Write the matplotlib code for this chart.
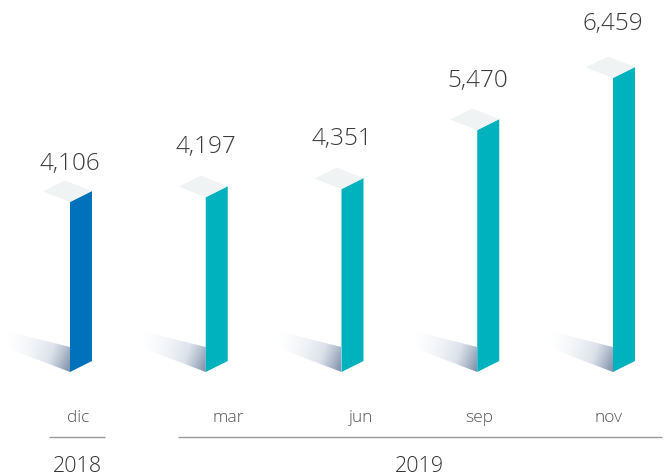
import numpy as np
import matplotlib.pyplot as plt
from matplotlib.patches import Polygon
from matplotlib.colors import LinearSegmentedColormap

# data
months = ['dic', 'mar', 'jun', 'sep', 'nov']
values = [4106, 4197, 4351, 5470, 6459]
labels = ['4,106', '4,197', '4,351', '5,470', '6,459']
years = ['2018', '2019']
year_groups = [(0, 0), (1, 4)]   # first/last bar index of each year

# layout (pixels)
W, H = 669, 477
BAR_STEP = 135.75      # px between bars
X0 = 70                # left edge of first bar
FLOOR = 373            # pixel row of the bars' base
Y_SCALE = 0.0527       # px per unit
BASE = 880             # value at the floor
month_dx = [8, 23, 20, 2, -4]
label_gap = [11, 24, 24, 23, 27]
group_pad = [(-21, 35), (-28, 49)]

colors = ['#0071BB', '#00B1BE', '#00B1BE', '#00B1BE', '#00B1BE']
top_col = '#EFF3F4'

plt.rcParams['font.family'] = ['Open Sans', 'DejaVu Sans']

fig = plt.figure(figsize=(W / 100, H / 100), dpi=100)
ax = fig.add_axes([0, 0, 1, 1])
ax.set_xlim(-X0 / BAR_STEP, (W - X0) / BAR_STEP)
ax.set_ylim(BASE - (H - FLOOR) / Y_SCALE, BASE + FLOOR / Y_SCALE)
ax.axis('off')


def px(dx):
    return dx / BAR_STEP


def py(dy):
    return dy / Y_SCALE


shadow_cmap = LinearSegmentedColormap.from_list('sh', ['#ffffff', '#dde3eb', '#7d8ea9'])
gy, gx = np.mgrid[0:1:50j, 0:1:80j]
grad = np.clip(gx ** 1.5 * (1.0 - 0.4 * gy), 0, 1)

for i, v in enumerate(values):
    w, s = px(22), py(11)
    bx, by = px(-27), py(10.5)

    # floor shadow
    shadow = Polygon([(i, BASE), (i, BASE + py(25)), (i + px(-64), BASE + py(41)),
                      (i + px(-58), BASE + py(22))], closed=True, facecolor='none',
                     edgecolor='none')
    ax.add_patch(shadow)
    im = ax.imshow(grad, cmap=shadow_cmap, vmin=0, vmax=1, aspect='auto',
                   extent=[i + px(-66), i, BASE, BASE + py(42)], origin='lower',
                   zorder=1, interpolation='bilinear')
    im.set_clip_path(shadow)

    # front face
    ax.add_patch(Polygon([(i, BASE), (i + w, BASE + s), (i + w, v + s), (i, v)],
                         closed=True, facecolor=colors[i], edgecolor='none', zorder=3))
    # top face
    ax.add_patch(Polygon([(i, v), (i + w, v + s), (i + w + bx, v + s + by), (i + bx, v + by)],
                         closed=True, facecolor=top_col, edgecolor='none', zorder=3))

    ax.text(i, v + by + s + py(label_gap[i]), labels[i], ha='center', va='baseline',
            fontsize=17.5, fontweight='light', color='#3a3a3a')
    ax.text(i + px(month_dx[i]), BASE - py(49), months[i], ha='center', va='baseline',
            fontsize=12.5, fontweight='light', color='#555555')

for (a, b), (pl, pr), yr in zip(year_groups, group_pad, years):
    x1, x2 = a + px(pl), b + px(pr)
    ax.plot([x1, x2], [BASE - py(65), BASE - py(65)], color='#9a9a9a', lw=1.0,
            solid_capstyle='butt')
    ax.text((x1 + x2) / 2, BASE - py(99), yr, ha='center', va='baseline',
            fontsize=15.5, fontweight='light', color='#333333')

fig.savefig('out.png', dpi=100)
